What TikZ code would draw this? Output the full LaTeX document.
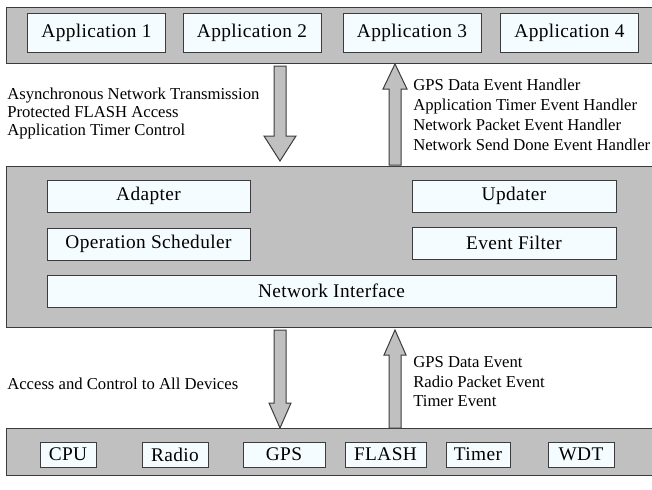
\documentclass[tikz,border=0pt]{standalone}
\usepackage{fontspec}
\setmainfont{Liberation Serif}
\newfontfamily\boxfont[LetterSpace=2]{Liberation Serif}
\usetikzlibrary{calc}
\definecolor{laygray}{RGB}{192,192,192}
\definecolor{blkfill}{RGB}{245,252,255}
\definecolor{edge}{RGB}{60,60,60}
\tikzset{%
    lay/.style={rectangle, draw=edge, fill=laygray, line width=0.75pt, inner sep=0pt},
    blk/.style={rectangle, draw=edge, fill=blkfill, line width=0.75pt, inner sep=0pt,
        font=\boxfont\fontsize{14.5pt}{16pt}\selectfont},
    txt/.style={inner sep=0pt, anchor=west, align=left},
    arr/.style={draw=edge, fill=laygray, line width=0.75pt, line join=miter},
}
% block arrow from #1 (tail) to #2 (tip), head half width #3
\newcommand{\blockarrow}[3]{%
    \coordinate (hb) at ($(#2)!18.75pt!(#1)$);
    \draw [arr] ($(#1)+(-6,0)$) -- ($(hb)+(-6,0)$) -- ($(hb)+(-#3,0)$) -- (#2)
        -- ($(hb)+(#3,0)$) -- ($(hb)+(6,0)$) -- ($(#1)+(6,0)$) -- cycle;
}
\begin{document}
\begin{tikzpicture}[x=0.75pt, y=-0.75pt]
    \useasboundingbox (0,0) rectangle (652,489);
    % layers
    \node [lay, minimum width=486pt, minimum height=42pt] (apps) at (330,35) {};
    \node [lay, minimum width=486pt, minimum height=120.75pt] (mid) at (330,246.5) {};
    \node [lay, minimum width=486pt, minimum height=35.25pt] (devs) at (330,451.5) {};
    % applications
    \node [blk, minimum width=103.5pt, minimum height=29.25pt] (app1) at (96.5,32.5) {Application 1};
    \node [blk, minimum width=103.5pt, minimum height=29.25pt] (app2) at (252,32.5) {Application 2};
    \node [blk, minimum width=103.5pt, minimum height=29.25pt] (app3) at (412,32.5) {Application 3};
    \node [blk, minimum width=103.5pt, minimum height=29.25pt] (app4) at (569.5,32.5) {Application 4};
    % middle layer
    \node [blk, minimum width=152.25pt, minimum height=24pt] (adapt) at (148.5,196) {Adapter};
    \node [blk, minimum width=152.25pt, minimum height=24pt] (sched) at (148.5,244) {Operation Scheduler};
    \node [blk, minimum width=153pt, minimum height=24pt] (upd) at (514,196) {Updater};
    \node [blk, minimum width=153pt, minimum height=24pt] (filt) at (514,243) {Event Filter};
    \node [blk, minimum width=426.75pt, minimum height=24pt] (netif) at (331.5,291) {Network Interface};
    % devices
    \node [blk, minimum width=42pt, minimum height=18.75pt] (cpu) at (68,454.5) {CPU};
    \node [blk, minimum width=49.5pt, minimum height=18.75pt] (radio) at (175,454.5) {Radio};
    \node [blk, minimum width=61.5pt, minimum height=18.75pt] (gps) at (284,454.5) {GPS};
    \node [blk, minimum width=60.75pt, minimum height=18.75pt] (flash) at (385.5,454.5) {FLASH};
    \node [blk, minimum width=48pt, minimum height=18.75pt] (timer) at (478,454.5) {Timer};
    \node [blk, minimum width=49.5pt, minimum height=18.75pt] (wdt) at (581,454.5) {WDT};
    % arrows
    \coordinate (callA) at (280,66);
    \coordinate (callB) at (280,161);
    \coordinate (evA) at (395,165);
    \coordinate (evB) at (395,64);
    \coordinate (ctlA) at (280,330);
    \coordinate (ctlB) at (280,428);
    \coordinate (devA) at (395,428);
    \coordinate (devB) at (395,330);
    \blockarrow{callA}{callB}{16}
    \blockarrow{evA}{evB}{12}
    \blockarrow{ctlA}{ctlB}{11}
    \blockarrow{devA}{devB}{11}
    % labels
    \node [txt, font=\fontsize{12.5pt}{13.5pt}\selectfont] (callt) at (7,113)
        {Asynchronous Network Transmission\\Protected FLASH Access\\Application Timer Control};
    \node [txt, font=\fontsize{12.5pt}{15pt}\selectfont] (evt) at (413,115)
        {GPS Data Event Handler\\Application Timer Event Handler\\Network Packet Event Handler\\Network Send Done Event Handler};
    \node [txt, font=\fontsize{12.5pt}{14.6pt}\selectfont] (ctlt) at (7,384)
        {Access and Control to All Devices};
    \node [txt, font=\fontsize{12.5pt}{14.6pt}\selectfont] (devt) at (413,382)
        {GPS Data Event\\Radio Packet Event\\Timer Event};
\end{tikzpicture}
\end{document}
